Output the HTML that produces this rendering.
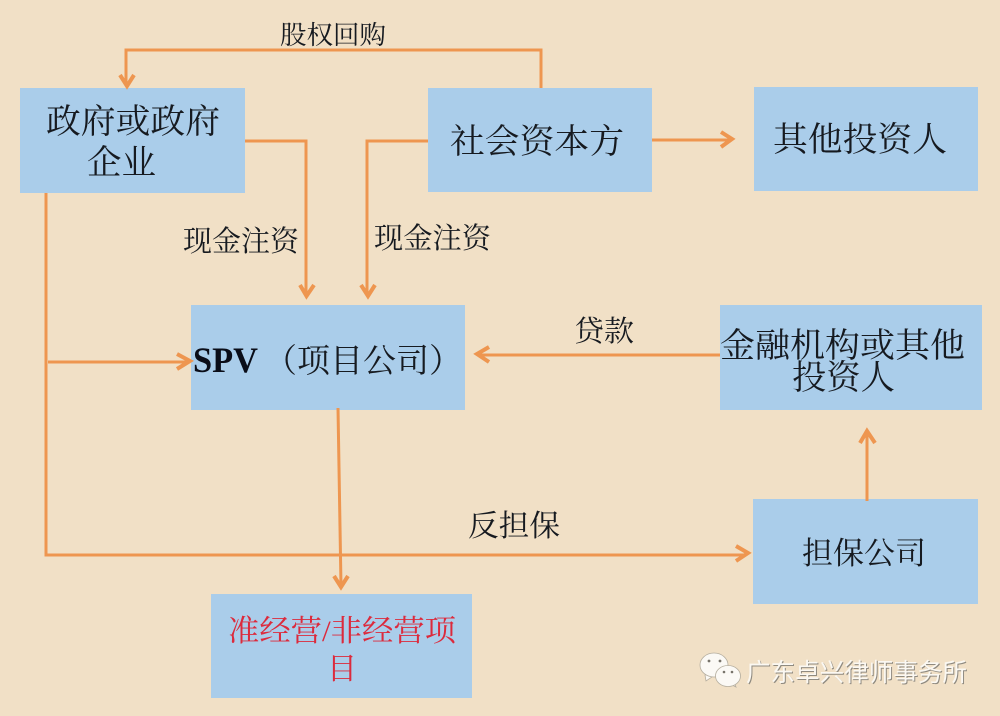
<!DOCTYPE html>
<html lang="zh">
<head>
<meta charset="utf-8">
<title>SPV 项目结构图</title>
<style>
html,body{margin:0;padding:0;width:1000px;height:716px;overflow:hidden;background:#f1e0c6}
svg{display:block;filter:blur(.35px)}
text{font-family:"Liberation Serif","Noto Serif CJK SC",serif;fill:#161a20}
.l{font-size:29px}
.m{font-size:34px}
.s{font-size:26px}
.b{fill:#aacdea}
.c{fill:none;stroke:#ee9650;stroke-width:3}
.h{fill:none;stroke:#ee9650;stroke-width:4}
</style>
</head>
<body>
<svg width="1000" height="716" viewBox="0 0 1000 716" xmlns="http://www.w3.org/2000/svg">
<rect width="1000" height="716" fill="#f1e0c6"/>

<rect class="b" x="20" y="88" width="225" height="105"/>
<rect class="b" x="428" y="88" width="224" height="104"/>
<rect class="b" x="754" y="87" width="224" height="104"/>
<rect class="b" x="191" y="305" width="274" height="105"/>
<rect class="b" x="720" y="305" width="262" height="105"/>
<rect class="b" x="753" y="499" width="225" height="105"/>
<rect class="b" x="211" y="594" width="261" height="104"/>

<path class="c" d="M541 88V50H126V84"/>
<path class="h" d="M120 75L127 86L134 75"/>
<path class="c" d="M245 141H306V294"/>
<path class="h" d="M300 285L306.500 296L314 285"/>
<path class="c" d="M428 141H367V294"/>
<path class="h" d="M361 285L368 296L375 285"/>
<path class="c" d="M652 140H730"/>
<path class="h" d="M721 132L732 139L721 147"/>
<path class="c" d="M46 193V555H746"/>
<path class="c" d="M48 362H188"/>
<path class="h" d="M177 354L190 361L177 369"/>
<path class="h" d="M736 546L748 553L736 561"/>
<path class="c" d="M338 408L341 586"/>
<path class="h" d="M334 576L341 587L348 576"/>
<path class="c" d="M720 355H478"/>
<path class="h" d="M489 347L477 354L489 362"/>
<path class="c" d="M867 501V432"/>
<path class="h" d="M860 443L867 431L875 443"/>

<text class="s" x="280" y="44" textLength="106" lengthAdjust="spacingAndGlyphs">股权回购</text>
<text class="m" x="46" y="133" textLength="174" lengthAdjust="spacingAndGlyphs">政府或政府</text>
<text class="m" x="87" y="174" textLength="69" lengthAdjust="spacingAndGlyphs">企业</text>
<text class="m" x="450" y="153" textLength="174" lengthAdjust="spacingAndGlyphs">社会资本方</text>
<text class="m" x="773" y="151" textLength="174" lengthAdjust="spacingAndGlyphs">其他投资人</text>
<text class="l" x="183" y="251" textLength="116" lengthAdjust="spacingAndGlyphs">现金注资</text>
<text class="l" x="374" y="248" textLength="117" lengthAdjust="spacingAndGlyphs">现金注资</text>
<text x="193" y="372" font-weight="700" textLength="65" lengthAdjust="spacingAndGlyphs" style="font-size:36px;fill:#0a0d18">SPV</text>
<text x="264" y="372" textLength="198" lengthAdjust="spacingAndGlyphs" style="font-size:33px">（项目公司）</text>
<text class="l" x="574" y="341" textLength="60" lengthAdjust="spacingAndGlyphs">贷款</text>
<text class="m" x="720" y="357" textLength="245" lengthAdjust="spacingAndGlyphs">金融机构或其他</text>
<text class="m" x="792" y="389" textLength="103" lengthAdjust="spacingAndGlyphs">投资人</text>
<text class="l" x="468" y="536" textLength="92" lengthAdjust="spacingAndGlyphs" style="font-size:30px">反担保</text>
<text class="l" x="802" y="564" textLength="124" lengthAdjust="spacingAndGlyphs" style="font-size:31px">担保公司</text>
<text class="l" x="228" y="641" textLength="228" lengthAdjust="spacingAndGlyphs" style="fill:#dc2a3c;font-size:30px">准经营/非经营项</text>
<text x="327" y="679" textLength="30" lengthAdjust="spacingAndGlyphs" style="fill:#dc2a3c;font-size:30px">目</text>

<g fill="#fbf9f5" stroke="#b5ae9f" stroke-width="0.8">
<path d="M705 675l1 6 6-4 10-10z"/>
<ellipse cx="714" cy="665" rx="14" ry="12"/>
<path d="M733 680l3 7-8-4z"/>
<ellipse cx="728" cy="676" rx="12.500" ry="10.500"/>
</g>
<g fill="#77736a">
<circle cx="709" cy="661" r="1.4"/><circle cx="720" cy="661" r="1.4"/>
<circle cx="724" cy="672" r="1.3"/><circle cx="732" cy="672" r="1.3"/>
</g>
<text x="747" y="682" style="font-family:'Liberation Sans','Noto Sans CJK SC',sans-serif;font-size:25px;fill:#8f8a80" textLength="221" lengthAdjust="spacingAndGlyphs">广东卓兴律师事务所</text>
<text x="746" y="681" style="font-family:'Liberation Sans','Noto Sans CJK SC',sans-serif;font-size:25px;fill:#fbf8f2" textLength="221" lengthAdjust="spacingAndGlyphs">广东卓兴律师事务所</text>
</svg>
</body>
</html>
